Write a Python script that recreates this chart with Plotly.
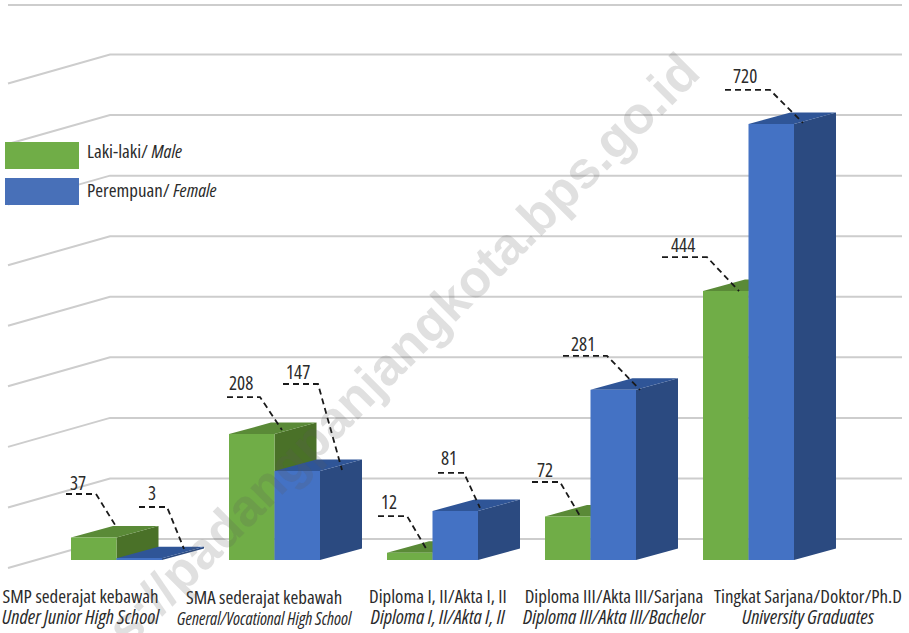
import plotly.graph_objects as go

# ---- data ----
categories = ["SMP", "SMA", "Diploma I/II", "Diploma III", "Sarjana"]
male = [37, 208, 12, 72, 444]
female = [3, 147, 81, 281, 720]
grid_values = [0, 100, 200, 300, 400, 500, 600, 700, 800]
labels_id = ["SMP sederajat kebawah", "SMA sederajat kebawah", "Diploma I, II/Akta I, II",
             "Diploma III/Akta III/Sarjana", "Tingkat Sarjana/Doktor/Ph.D"]
labels_en = ["Under Junior High School", "General/Vocational High School", "Diploma I, II/Akta I, II",
             "Diploma III/Akta III/Bachelor", "University Graduates"]

# ---- styling / layout ----
W, H = 909, 633
PX_X, PX_Y = 158.0, 0.6056          # pixels per category, pixels per value unit
X0_PX, Y0_PX = 116.5, 560.0         # pixel position of (category 0 centre, value 0)
BAR_W = 45.5 / PX_X
DEPTH_X, DEPTH_Y = 42 / PX_X, 11.5 / PX_Y
FONT = "Open Sans"
TXT = "#2b2b2b"
GREEN, GREEN_SIDE, GREEN_TOP = "#70AD47", "#4A7128", "#5A8A37"
BLUE, BLUE_SIDE, BLUE_TOP = "#4472C4", "#2B4A80", "#2F5597"
GRID = "#CDCDCD"


def X(px):
    return (px - X0_PX) / PX_X


def Y(py):
    return (Y0_PX - py) / PX_Y


def narrow(s, size=None):
    extra = f";font-size:{size}px" if size else ""
    return f'<span style="font-stretch:75%{extra}">{s}</span>'


fig = go.Figure()

# walls: slanted side-wall line then horizontal back-wall line
WALL_L, WALL_B, WALL_R = X(8), X(110), X(902)
for v in grid_values:
    fig.add_trace(go.Scatter(x=[WALL_L, WALL_B, WALL_R],
                             y=[v + Y(568), v + Y(539), v + Y(539)],
                             mode="lines", line=dict(color=GRID, width=2), zorder=0,
                             hoverinfo="skip", showlegend=False))
fig.add_trace(go.Scatter(x=[WALL_L, WALL_R], y=[Y(5), Y(5)], mode="lines",
                         line=dict(color=GRID, width=2), zorder=0, hoverinfo="skip", showlegend=False))


def faces(values, shift):
    side_x, side_y, top_x, top_y = [], [], [], []
    for i, v in enumerate(values):
        l, r = i + shift - BAR_W / 2, i + shift + BAR_W / 2
        side_x += [r, r + DEPTH_X, r + DEPTH_X, r, r, None]
        side_y += [0, DEPTH_Y, v + DEPTH_Y, v, 0, None]
        top_x += [l, l + DEPTH_X, r + DEPTH_X, r, l, None]
        top_y += [v, v + DEPTH_Y, v + DEPTH_Y, v, v, None]
    return side_x, side_y, top_x, top_y


def add_series(values, shift, front, side, top, z, name):
    sx, sy, tx, ty = faces(values, shift)
    fig.add_trace(go.Scatter(x=sx, y=sy, fill="toself", fillcolor=side, mode="lines",
                             line=dict(width=0, color=side), zorder=z, hoverinfo="skip", showlegend=False))
    fig.add_trace(go.Scatter(x=tx, y=ty, fill="toself", fillcolor=top, mode="lines",
                             line=dict(width=0, color=top), zorder=z, hoverinfo="skip", showlegend=False))
    fig.add_trace(go.Bar(x=[i + shift for i in range(len(values))], y=values, width=BAR_W,
                         marker=dict(color=front, line=dict(width=0)), zorder=z + 1, name=name, showlegend=False))


add_series(male, -BAR_W / 2, GREEN, GREEN_SIDE, GREEN_TOP, 1, "Laki-laki/ Male")
add_series(female, BAR_W / 2, BLUE, BLUE_SIDE, BLUE_TOP, 3, "Perempuan/ Female")

# leader lines: start x, knee x, knee y, tip x, tip y, label cx, label cy, as pixel offsets from the bar's top-right-front corner
LEADERS_M = [(-50.5, -20.5, -43.6, 0.5, -9.6, -38.5, -54.6),
             (-47.5, -14.5, -37, 7.5, -4, -33.5, -51),
             (-54.5, -25.5, -36.7, -5.5, -2.7, -43.5, -50.7),
             (-58.5, -30.5, -34.4, -10.5, -0.4, -45.5, -46.4),
             (-86.5, -41.5, -34, -9.5, 0, -65.5, -46)]
LEADERS_F = [(-23, 5, -51.2, 22, -9.2, -10, -65.2),
             (-37, -2, -87, 22, -1, -22, -99),
             (-40, -14, -38, 2, -3, -29, -53),
             (-73, -29, -34, 4, 0, -53, -46),
             (-69, -24, -34, 9, -1, -49, -48)]
for vals, leaders, shift in ((male, LEADERS_M, -BAR_W / 2), (female, LEADERS_F, BAR_W / 2)):
    lx, ly = [], []
    for i, (v, L) in enumerate(zip(vals, leaders)):
        cx = X0_PX + (i + shift + BAR_W / 2) * PX_X
        cy = Y0_PX - v * PX_Y
        lx += [X(cx + L[0]), X(cx + L[1]), X(cx + L[3]), None]
        ly += [Y(cy + L[2]), Y(cy + L[2]), Y(cy + L[4]), None]
        fig.add_annotation(x=X(cx + L[5]), y=Y(cy + L[6]), text=narrow(str(v)), showarrow=False,
                           font=dict(family=FONT, size=19, color=TXT))
    fig.add_trace(go.Scatter(x=lx, y=ly, mode="lines", zorder=9, hoverinfo="skip", showlegend=False,
                             line=dict(color="#1a1a1a", width=1.8, dash="6px,4px")))

# category labels: the annotation size sets the 21px line pitch, the spans set the glyph size
label_cx = [81, 265, 438, 614, 808]
label_size_en = [20, 17.3, 20, 20, 20]
for cx, a, b, s in zip(label_cx, labels_id, labels_en, label_size_en):
    fig.add_annotation(x=X(cx), y=Y(606.5), text=narrow(a, 18.9) + "<br>" + narrow(f"<i>{b}</i>", s),
                       showarrow=False, align="center", font=dict(family=FONT, size=16.2, color=TXT))

# legend
for y0, y1, yt, c, txt in ((142, 169, 151, "#70AD47", "Laki-laki/ <i>Male</i>"),
                           (178, 205, 189.5, "#4870B8", "Perempuan/ <i>Female</i>")):
    fig.add_shape(type="rect", x0=X(5), x1=X(79), y0=Y(y1), y1=Y(y0), fillcolor=c, line_width=0, layer="above")
    fig.add_annotation(x=X(85), y=Y(yt), text=narrow(txt), showarrow=False, xanchor="left",
                       font=dict(family=FONT, size=18.9, color=TXT))

# watermark
fig.add_annotation(x=X(368), y=Y(384), text="https://padangpanjangkota.bps.go.id", showarrow=False, textangle=-45,
                   font=dict(family="Liberation Sans", size=52, color="rgba(90,90,90,0.19)", weight="bold"))

fig.update_layout(width=W, height=H, margin=dict(l=0, r=0, t=0, b=0), paper_bgcolor="white", plot_bgcolor="white",
                  barmode="overlay", showlegend=False,
                  xaxis=dict(range=[X(0), X(W)], visible=False, fixedrange=True),
                  yaxis=dict(range=[Y(H), Y(0)], visible=False, fixedrange=True))
fig.write_html("out.html", config={"displayModeBar": False},
               post_script="document.body.style.margin='0';document.body.style.overflow='hidden';")
